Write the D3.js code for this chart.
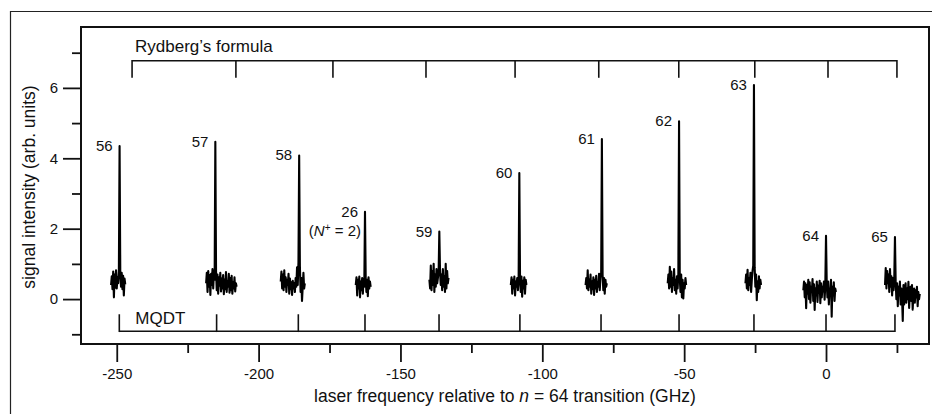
<!DOCTYPE html>
<html>
<head>
<meta charset="utf-8">
<script src="https://cdn.jsdelivr.net/npm/d3@7"></script>
<style>
  body { margin: 0; background: #fff; }
  svg text { font-family: "Liberation Sans", Arial, Helvetica, sans-serif; fill: #111; }
</style>
</head>
<body>
<div id="chart"></div>
<script>
// spectrum pieces, one scan per resonance
var scanStep = 0.25;
var scanStart = [-252.0, -218.5, -192.2, -165.75, -139.8, -111.1, -84.75, -55.8, -28.4, -8.0, 20.8];
var peakLabels = ["56", "57", "58", "26", "59", "60", "61", "62", "63", "64", "65"];

var sig56 = [0.40, 0.65, 0.28, 0.78, 0.05, 0.70, 0.32, 0.82, 0.30, 0.62, 0.45, 0.80, 4.35,
  0.70, 0.35, 0.75, 0.28, 0.66, 0.10, 0.58, 0.42];
var sig57 = [0.45, 0.75, 0.20, 0.80, 0.35, 0.68, 0.12, 0.72, 0.40, 0.85, 0.30, 0.78, 0.55, 4.47,
  0.80, 0.25, 0.70, 0.15, 0.62, 0.38, 0.75, 0.22, 0.58, 0.30, 0.68, 0.14, 0.55, 0.28, 0.77,
  0.20, 0.50, 0.35, 0.72, 0.18, 0.60, 0.25, 0.66, 0.15, 0.48, 0.30, 0.62, 0.22, 0.45, 0.35];
var sig58 = [0.50, 0.78, 0.30, 0.70, 0.25, 0.82, 0.35, 0.62, 0.20, 0.55, 0.40, 0.72, 0.15,
  0.58, 0.28, 0.48, 0.12, 0.52, 0.30, 0.45, 0.20, 0.60, 0.35, 0.90, 0.40, 1.05, 4.08,
  0.95, 0.20, 0.60, -0.05, 0.35, 0.75, 0.30, 0.45];
var sig26 = [0.40, 0.62, 0.10, 0.55, 0.30, 0.64, 0.05, 0.50, 0.25, 0.60, 0.15, 0.58, 0.35, 2.48,
  0.60, 0.20, 0.55, 0.08, 0.62, 0.30, 0.50, 0.35];
var sig59 = [0.55, 0.30, 0.95, 0.25, 0.80, 0.40, 1.00, 0.20, 0.70, 0.35, 0.85, 0.45, 0.60, 0.75, 1.92,
  0.80, 0.40, 0.70, 0.25, 0.85, 0.35, 0.65, 0.20, 1.00, 0.30, 0.80, 0.45, 0.60];
var sig60 = [0.40, 0.62, 0.15, 0.55, 0.30, 0.64, 0.10, 0.50, 0.35, 0.60, 0.25, 0.55, 3.58,
  0.58, 0.20, 0.64, 0.07, 0.52, 0.30, 0.62, 0.15, 0.55, 0.40];
var sig61 = [0.40, 0.60, 0.30, 0.82, 0.25, 0.55, 0.35, 0.70, 0.15, 0.50, 0.28, 0.62, 0.12, 0.55,
  0.30, 0.66, 0.20, 0.48, 0.35, 0.72, 0.25, 0.60, 0.75, 4.55,
  0.70, 0.25, 0.60, 0.15, 0.55, 0.35, 0.45];
var sig62 = [0.45, 0.70, 0.30, 0.92, 0.35, 0.78, 0.20, 0.60, 0.40, 0.85, 0.25, 0.55, 0.15, 0.65, 0.30, 0.72, 5.05,
  0.60, 0.20, 0.70, 0.05, 0.55, 0.02, 0.45, 0.30, 0.60, 0.40];
var sig63 = [0.45, 0.70, 0.30, 0.83, 0.25, 0.60, 0.40, 0.75, 0.20, 0.55, 0.80, 0.95, 6.08,
  0.90, 0.35, 0.70, -0.03, 0.50, 0.20, 0.65, 0.30, 0.55, 0.40];
var sig64 = [0.25, 0.50, 0.05, 0.45, -0.26, 0.40, 0.15, 0.55, 0.00, 0.48, -0.10, 0.35, 0.20, 0.57,
  -0.05, 0.42, -0.31, 0.30, 0.10, 0.50, -0.08, 0.38, 0.18, 0.52, -0.12, 0.45, 0.05, 0.35, 0.22,
  0.50, -0.02, 0.40, 1.80,
  0.45, 0.05, 0.50, -0.15, 0.30, 0.20, 0.55, -0.50, 0.35, 0.10, 0.48, -0.05, 0.30, 0.20];
var sig65 = [0.40, 0.88, 0.30, 0.80, 0.45, 0.70, 0.20, 0.85, 0.35, 0.65, 0.10, 0.60, 0.25, 0.55, 1.76,
  0.50, 0.00, 0.45, -0.20, 0.35, 0.10, 0.50, -0.15, 0.30, 0.05, -0.62, 0.40, -0.15, 0.25, 0.45,
  -0.10, 0.30, 0.00, 0.49, -0.25, 0.20, 0.35, -0.05, 0.40, -0.30, 0.15, 0.30, -0.10, 0.25, 0.05,
  0.35, -0.20, 0.20, 0.00, 0.15];
var scans = [sig56, sig57, sig58, sig26, sig59, sig60, sig61, sig62, sig63, sig64, sig65];

// predicted line positions (GHz)
var rydbergPos = [-244.6, -208.0, -173.8, -141.0, -109.6, -80.1, -51.9, -25.1, 0.7, 25.0];
var mqdtPos = [-249.1, -214.8, -186.0, -162.5, -136.4, -107.9, -79.3, -51.8, -25.4, 0, 24.3];

var xMajor = [-250, -200, -150, -100, -50, 0];
var xMinor = [-225, -175, -125, -75, -25, 25];
var yMajor = [0, 2, 4, 6];
var yMinor = [-1, 1, 3, 5, 7];

var W = 932, H = 414;
var box = {left: 81, right: 929, top: 27, bottom: 344};

var svg = d3.select("#chart").append("svg")
  .attr("width", W)
  .attr("height", H);

var x = d3.scaleLinear().domain([-262.6, 36.3]).range([box.left, box.right]);
var y = d3.scaleLinear().domain([-1.276, 7.73]).range([box.bottom, box.top]);

// outer figure frame
svg.append("path")
  .attr("d", "M10.5," + H + "V11.5H" + W)
  .attr("fill", "none")
  .attr("stroke", "#222")
  .attr("stroke-width", 1.2);

// axes
function styleAxis(g) {
  g.select(".domain").remove();
  g.selectAll("line").attr("stroke", "#111").attr("stroke-width", 1.8);
  g.attr("font-size", 15).attr("font-family", null);
}

svg.append("g")
  .attr("transform", "translate(0," + box.bottom + ")")
  .call(d3.axisBottom(x).tickValues(xMajor).tickSize(18).tickPadding(6).tickFormat(function(d) { return String(d); }))
  .call(styleAxis);
svg.append("g")
  .attr("transform", "translate(0," + box.bottom + ")")
  .call(d3.axisBottom(x).tickValues(xMinor).tickSize(9).tickFormat(""))
  .call(styleAxis);

svg.append("g")
  .attr("transform", "translate(" + box.left + ",0)")
  .call(d3.axisLeft(y).tickValues(yMajor).tickSize(18).tickPadding(5).tickFormat(function(d) { return String(d); }))
  .call(styleAxis);
svg.append("g")
  .attr("transform", "translate(" + box.left + ",0)")
  .call(d3.axisLeft(y).tickValues(yMinor).tickSize(9).tickFormat(""))
  .call(styleAxis);

// plot box
svg.append("rect")
  .attr("x", box.left)
  .attr("y", box.top)
  .attr("width", box.right - box.left)
  .attr("height", box.bottom - box.top)
  .attr("fill", "none")
  .attr("stroke", "#111")
  .attr("stroke-width", 2);

// Rydberg formula bracket
var ryY = y(6.77);
svg.append("path")
  .attr("d", "M" + x(rydbergPos[0]) + "," + ryY + "H" + x(rydbergPos[rydbergPos.length - 1]))
  .attr("stroke", "#111").attr("stroke-width", 1.6);
svg.selectAll(".ryd")
  .data(rydbergPos)
  .enter().append("line")
  .attr("class", "ryd")
  .attr("x1", function(d) { return x(d); })
  .attr("x2", function(d) { return x(d); })
  .attr("y1", ryY - 0.8)
  .attr("y2", ryY + 17)
  .attr("stroke", "#111").attr("stroke-width", 1.6);
svg.append("text")
  .attr("x", x(rydbergPos[0]) + 3)
  .attr("y", ryY - 9)
  .attr("font-size", 17)
  .text("Rydberg\u2019s formula");

// MQDT bracket
var mqY = y(-0.914);
svg.append("path")
  .attr("d", "M" + x(mqdtPos[0]) + "," + mqY + "H" + x(mqdtPos[mqdtPos.length - 1]))
  .attr("stroke", "#111").attr("stroke-width", 1.6);
svg.selectAll(".mqdt")
  .data(mqdtPos)
  .enter().append("line")
  .attr("class", "mqdt")
  .attr("x1", function(d) { return x(d); })
  .attr("x2", function(d) { return x(d); })
  .attr("y1", mqY + 0.8)
  .attr("y2", mqY - 17)
  .attr("stroke", "#111").attr("stroke-width", 1.6);
svg.append("text")
  .attr("x", x(mqdtPos[0]) + 16)
  .attr("y", mqY - 7)
  .attr("font-size", 17)
  .text("MQDT");

// spectrum traces
var line = d3.line()
  .x(function(d, i) { return x(d.f); })
  .y(function(d) { return y(d.v); });

var traces = scans.map(function(vals, k) {
  return vals.map(function(v, i) { return {f: scanStart[k] + i * scanStep, v: v}; });
});

svg.selectAll(".trace")
  .data(traces)
  .enter().append("path")
  .attr("class", "trace")
  .attr("d", line)
  .attr("fill", "none")
  .attr("stroke", "#000")
  .attr("stroke-width", 2.1)
  .attr("stroke-linejoin", "round");

// peak labels
var tops = traces.map(function(t) {
  return t.reduce(function(a, b) { return b.v > a.v ? b : a; });
});

svg.selectAll(".plabel")
  .data(tops)
  .enter().append("text")
  .attr("class", "plabel")
  .attr("x", function(d) { return x(d.f) - 7; })
  .attr("y", function(d) { return y(d.v) + 5; })
  .attr("text-anchor", "end")
  .attr("font-size", 15)
  .text(function(d, i) { return peakLabels[i]; });

var t26 = tops[3];
var nlab = svg.append("text")
  .attr("x", x(t26.f) - 4)
  .attr("y", y(t26.v) + 24)
  .attr("text-anchor", "end")
  .attr("font-size", 15);
nlab.append("tspan").text("(");
nlab.append("tspan").attr("font-style", "italic").text("N");
nlab.append("tspan").attr("font-size", 10).attr("dy", -5).text("+");
nlab.append("tspan").attr("dy", 5).text(" = 2)");

// axis titles
var xt = svg.append("text")
  .attr("x", 505)
  .attr("y", 402)
  .attr("text-anchor", "middle")
  .attr("font-size", 17.5);
xt.append("tspan").text("laser frequency relative to ");
xt.append("tspan").attr("font-style", "italic").text("n");
xt.append("tspan").text(" = 64 transition (GHz)");

svg.append("text")
  .attr("transform", "translate(35,187) rotate(-90)")
  .attr("text-anchor", "middle")
  .attr("font-size", 17.5)
  .text("signal intensity (arb. units)");
</script>
</body>
</html>
